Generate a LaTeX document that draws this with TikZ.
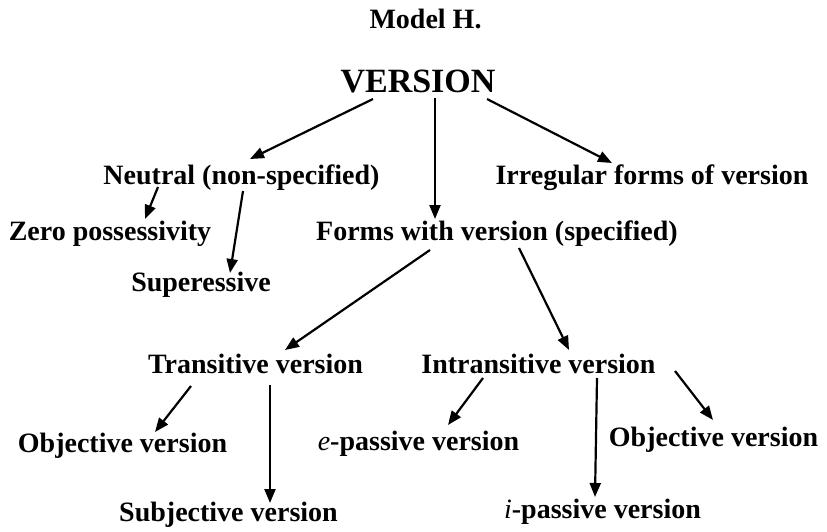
\documentclass[tikz,border=0pt]{standalone}
\usepackage{fontspec}
\setmainfont{Liberation Serif}
\usetikzlibrary{arrows.meta}
\begin{document}
\begin{tikzpicture}[x=1pt,y=-1pt,
  lbl/.style={inner sep=0pt,anchor=base,font=\fontsize{28}{30}\selectfont\bfseries},
  big/.style={inner sep=0pt,anchor=base,font=\fontsize{34}{36}\selectfont\bfseries},
  arr/.style={line width=2.2pt,-{Triangle[length=14pt,width=11pt]}}]
\useasboundingbox (0,0) rectangle (827,532);
% nodes
\node[lbl] (model) at (425.5,29) {Model H.};
\node[big] (version) at (418,93) {VERSION};
\node[lbl] (neutral) at (241.5,184) {Neutral (non-specified)};
\node[lbl] (irreg) at (652,184) {Irregular forms of version};
\node[lbl] (zero) at (110,240) {Zero possessivity};
\node[lbl] (forms) at (497,240) {Forms with version (specified)};
\node[lbl] (super) at (201,291) {Superessive};
\node[lbl] (trans) at (255.5,373) {Transitive version};
\node[lbl] (intrans) at (538.5,373) {Intransitive version};
\node[lbl] (objl) at (122.5,452) {Objective version};
\node[lbl] (epass) at (418.5,450) {\textit{\mdseries e}-passive version};
\node[lbl] (objr) at (713.5,446) {Objective version};
\node[lbl] (subj) at (228.5,521) {Subjective version};
\node[lbl] (ipass) at (602.5,518) {\textit{\mdseries i}-passive version};
% connector end points
\coordinate (v1) at (373,99);  \coordinate (n1) at (250,159);
\coordinate (v2) at (435,98);  \coordinate (f1) at (435,219);
\coordinate (v3) at (487,99);  \coordinate (i1) at (612,163);
\coordinate (n2) at (158,187); \coordinate (z1) at (145,219);
\coordinate (n3) at (243,191); \coordinate (s1) at (230,273);
\coordinate (f2) at (430,250); \coordinate (t1) at (285,350);
\coordinate (f3) at (519,248); \coordinate (it1) at (569,350);
\coordinate (t2) at (191,386); \coordinate (ol1) at (155,432);
\coordinate (t3) at (270,385); \coordinate (sb1) at (270,503);
\coordinate (it2) at (483,378); \coordinate (ep1) at (448,425);
\coordinate (it3) at (597,378); \coordinate (ip1) at (595,497);
\coordinate (it4) at (675,371); \coordinate (or1) at (713,420);
% connectors
\draw[arr] (v1) -- (n1);
\draw[arr] (v2) -- (f1);
\draw[arr] (v3) -- (i1);
\draw[arr] (n2) -- (z1);
\draw[arr] (n3) -- (s1);
\draw[arr] (f2) -- (t1);
\draw[arr] (f3) -- (it1);
\draw[arr] (t2) -- (ol1);
\draw[arr] (t3) -- (sb1);
\draw[arr] (it2) -- (ep1);
\draw[arr] (it3) -- (ip1);
\draw[arr] (it4) -- (or1);
\end{tikzpicture}
\end{document}
